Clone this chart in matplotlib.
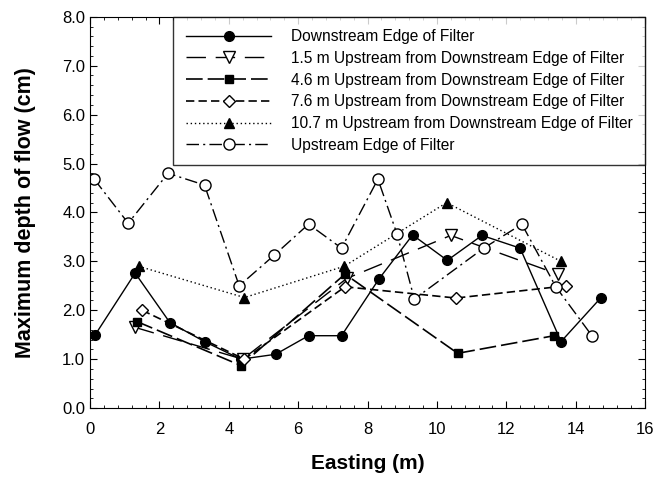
import matplotlib
matplotlib.use("Agg")
import matplotlib.pyplot as plt
from matplotlib.ticker import MultipleLocator, FormatStrFormatter

plt.rcParams['font.family'] = ['Liberation Sans', 'DejaVu Sans']

# Downstream edge of filter
x_down = [0.15, 1.3, 2.3, 3.3, 4.35, 5.35, 6.3, 7.25, 8.33, 9.3, 10.3, 11.3, 12.4, 13.58, 14.72]
y_down = [1.5, 2.76, 1.75, 1.36, 1.0, 1.1, 1.48, 1.48, 2.64, 3.54, 3.02, 3.53, 3.27, 1.36, 2.25]

# 1.5 m upstream
x_15 = [1.3, 4.4, 7.4, 10.4, 13.48]
y_15 = [1.65, 1.0, 2.65, 3.53, 2.74]

# 4.6 m upstream
x_46 = [1.35, 4.35, 7.35, 10.6, 13.38]
y_46 = [1.77, 0.87, 2.74, 1.12, 1.48]

# 7.6 m upstream
x_76 = [1.5, 4.45, 7.35, 10.55, 13.73]
y_76 = [2.0, 1.0, 2.48, 2.25, 2.5]

# 10.7 m upstream
x_107 = [1.4, 4.45, 7.33, 10.28, 13.58]
y_107 = [2.9, 2.26, 2.9, 4.2, 3.0]

# Upstream edge of filter
x_up = [0.12, 1.1, 2.25, 3.3, 4.3, 5.3, 6.3, 7.25, 8.3, 8.85, 9.35, 11.35, 12.45, 13.43, 14.47]
y_up = [4.68, 3.78, 4.8, 4.56, 2.5, 3.12, 3.76, 3.27, 4.68, 3.56, 2.23, 3.27, 3.76, 2.48, 1.48]

labels = ['Downstream Edge of Filter',
          '1.5 m Upstream from Downstream Edge of Filter',
          '4.6 m Upstream from Downstream Edge of Filter',
          '7.6 m Upstream from Downstream Edge of Filter',
          '10.7 m Upstream from Downstream Edge of Filter',
          'Upstream Edge of Filter']

fig = plt.figure(figsize=(6.67, 4.79), dpi=100)
ax = fig.add_axes([0.135, 0.148, 0.832, 0.817])

ms = 7
ax.plot(x_down, y_down, color='black', lw=1.0, marker='o', ms=ms,
        mfc='black', mec='black', label=labels[0])
ax.plot(x_15, y_15, color='black', lw=1.0, marker='v', ms=ms + 1,
        mfc='white', mec='black', dashes=(14, 7), label=labels[1])
ax.plot(x_46, y_46, color='black', lw=1.2, marker='s', ms=ms - 1,
        mfc='black', mec='black', dashes=(10, 3), label=labels[2])
ax.plot(x_76, y_76, color='black', lw=1.2, marker='D', ms=ms - 1,
        mfc='white', mec='black', dashes=(5, 2.5), label=labels[3])
ax.plot(x_107, y_107, color='black', lw=1.0, marker='^', ms=ms,
        mfc='black', mec='black', dashes=(1, 2), label=labels[4])
ax.plot(x_up, y_up, color='black', lw=1.0, marker='o', ms=ms + 1,
        mfc='white', mec='black', dashes=(9, 3, 1.5, 3), label=labels[5])

ax.set_xlim(0, 16)
ax.set_ylim(0, 8)
ax.xaxis.set_major_locator(MultipleLocator(2))
ax.xaxis.set_minor_locator(MultipleLocator(0.4))
ax.yaxis.set_major_locator(MultipleLocator(1))
ax.yaxis.set_minor_locator(MultipleLocator(0.2))
ax.yaxis.set_major_formatter(FormatStrFormatter('%.1f'))
ax.tick_params(which='both', direction='in', top=True, right=True, labelsize=12)
ax.tick_params(which='major', length=5)
ax.tick_params(which='minor', length=2.5)
ax.tick_params(axis='x', pad=10)

ax.set_xlabel('Easting (m)', fontsize=15, fontweight='bold', labelpad=12)
ax.set_ylabel('Maximum depth of flow (cm)', fontsize=15.5, fontweight='bold', labelpad=19)

leg = ax.legend(loc='upper right', bbox_to_anchor=(1.0, 1.0), fontsize=11.2,
                handlelength=5.5, frameon=True, fancybox=False, borderaxespad=0,
                labelspacing=0.43, handletextpad=1.25, borderpad=0.8)
leg.get_frame().set_edgecolor('black')
leg.get_frame().set_linewidth(1.0)

fig.savefig('out.png', dpi=100)
